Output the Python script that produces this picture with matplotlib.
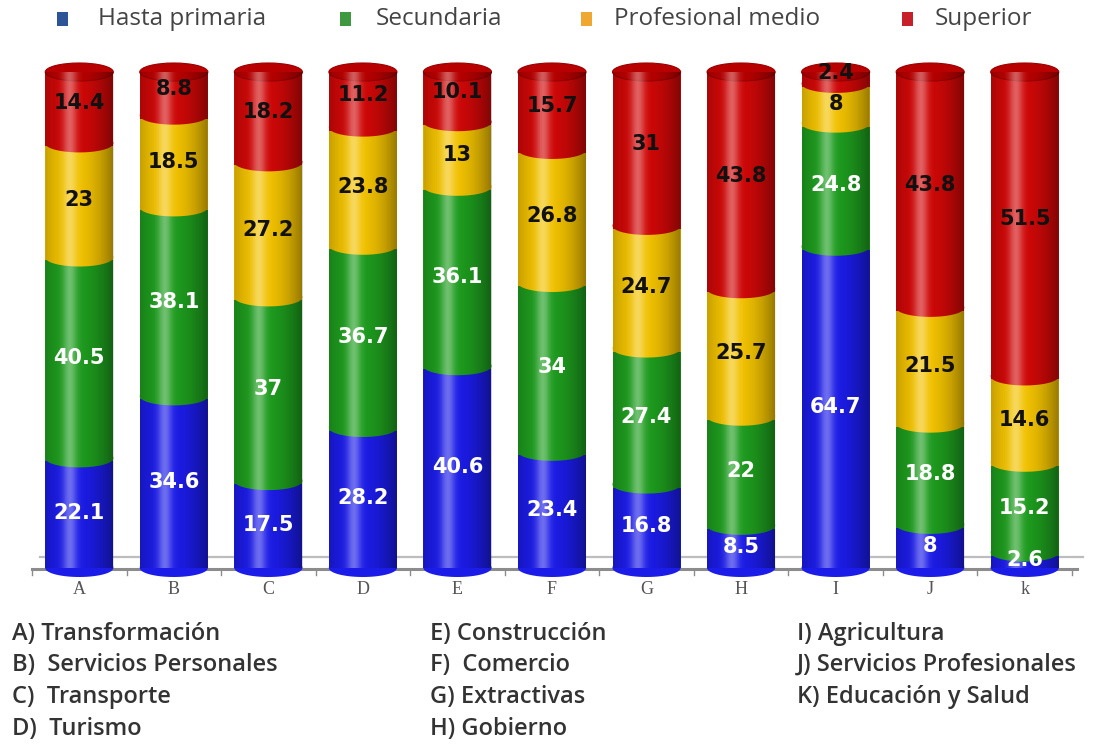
import numpy as np
import matplotlib
matplotlib.use("Agg")
import matplotlib.pyplot as plt
from matplotlib.patches import Rectangle, Ellipse, PathPatch
from matplotlib.path import Path

categories = ["A", "B", "C", "D", "E", "F", "G", "H", "I", "J", "k"]
series_names = ["Hasta primaria", "Secundaria", "Profesional medio", "Superior"]
hasta_primaria = [22.1, 34.6, 17.5, 28.2, 40.6, 23.4, 16.8, 8.5, 64.7, 8, 2.6]
secundaria = [40.5, 38.1, 37, 36.7, 36.1, 34, 27.4, 22, 24.8, 18.8, 15.2]
profesional_medio = [23, 18.5, 27.2, 23.8, 13, 26.8, 24.7, 25.7, 8, 21.5, 14.6]
superior = [14.4, 8.8, 18.2, 11.2, 10.1, 15.7, 31, 43.8, 2.4, 43.8, 51.5]
sector_notes = [
    ["A) Transformación", "B)  Servicios Personales", "C)  Transporte", "D)  Turismo"],
    ["E) Construcción", "F)  Comercio", "G) Extractivas", "H) Gobierno"],
    ["I) Agricultura", "J) Servicios Profesionales", "K) Educación y Salud"],
]

bar_colors = ["#1c1ce8", "#1e9c1e", "#f2c200", "#d00808"]
cap_color = "#b80000"
legend_colors = ["#2d5496", "#3f9a3f", "#f0a732", "#c8202a"]
label_colors = ["white", "white", "#111111", "#111111"]

W, H = 1101, 744
fig = plt.figure(figsize=(W / 100, H / 100), dpi=100)

left_px, right_px = 32, 1072
bot_px, top_px = 568, 72
ax = fig.add_axes([left_px / W, 1 - bot_px / H, (right_px - left_px) / W, (bot_px - top_px) / H])
ax.set_xlim(-0.5, len(categories) - 0.5)
ax.set_ylim(0, 100)
ax.axis("off")

px_per_unit_y = (bot_px - top_px) / 100.0
ell_h = 18 / px_per_unit_y
bw = 0.72

data = np.array([hasta_primaria, secundaria, profesional_medio, superior], dtype=float)
totals = data.sum(axis=0)
shares = data / totals * 100

# floor
ax.plot([-0.5, len(categories) - 0.45], [-0.2, -0.2], color="#8c8c8c", lw=2.2, clip_on=False, zorder=1)
ax.plot([-0.42, len(categories) - 0.38], [2.2, 2.2], color="#bdbdbd", lw=1.6, clip_on=False, zorder=1)
for i in range(len(categories) + 1):
    xb = i - 0.5
    ax.plot([xb, xb], [-0.2, -1.4], color="#8c8c8c", lw=1, clip_on=False, zorder=1)

t = np.linspace(0, 1, 200)
dark = 0.40 * (np.abs(t - 0.40) / 0.60) ** 2
light = 0.36 * np.exp(-((t - 0.36) / 0.10) ** 2)
dark_img = np.zeros((2, 200, 4)); dark_img[..., 3] = dark
light_img = np.ones((2, 200, 4)); light_img[..., 3] = light

overlap = 0.6
for i, cat in enumerate(categories):
    x = i
    y0 = 0.0
    for s in range(4):
        h = shares[s, i]
        z = 2 + s * 0.1
        ext = overlap if s > 0 else 0
        ax.add_patch(Rectangle((x - bw / 2, y0 - ext), bw, h + ext, facecolor=bar_colors[s], edgecolor="none",
                               zorder=z, clip_on=False))
        th = np.linspace(np.pi, 2 * np.pi, 60)
        verts = np.column_stack([x + bw / 2 * np.cos(th), y0 + ell_h / 2 * np.sin(th)])
        verts = np.vstack([[x - bw / 2, y0 + 0.3], verts, [x + bw / 2, y0 + 0.3], [x - bw / 2, y0 + 0.3]])
        ax.add_patch(PathPatch(Path(verts), facecolor=bar_colors[s], edgecolor="none", zorder=z, clip_on=False))
        y0 += h
    ax.add_patch(Ellipse((x, 100), bw, ell_h, facecolor=cap_color, edgecolor="#9a0000", lw=0.8, zorder=2.6, clip_on=False))

    th_top = np.linspace(np.pi, 0, 60)
    th_bot = np.linspace(0, -np.pi, 60)
    top = np.column_stack([x + bw / 2 * np.cos(th_top), 100 + ell_h / 2 * np.sin(th_top)])
    bot = np.column_stack([x + bw / 2 * np.cos(th_bot), 0 + ell_h / 2 * np.sin(th_bot)])
    verts = np.vstack([top, bot, top[:1]])
    clip = PathPatch(Path(verts), transform=ax.transData, facecolor="none", edgecolor="none")
    ax.add_patch(clip)
    for img in (dark_img, light_img):
        im = ax.imshow(img, extent=(x - bw / 2, x + bw / 2, -ell_h, 100 + ell_h), aspect="auto", zorder=2.7,
                       interpolation="bilinear", origin="lower")
        im.set_clip_path(clip)

    y0 = 0.0
    for s in range(4):
        h = shares[s, i]
        yc = y0 + h / 2
        if s == 3:
            yc = y0 + h / 2 + 1
        ax.text(x, yc, f"{data[s, i]:g}", ha="center", va="center", fontsize=15, fontweight="bold",
                color=label_colors[s], zorder=5, family="DejaVu Sans")
        y0 += h

    fig.text((left_px + (i + 0.5) * (right_px - left_px) / len(categories)) / W, 1 - 590 / H, cat,
             ha="center", va="center", fontsize=13, color="#555555", family="Liberation Serif")

ax.set_xlim(-0.5, len(categories) - 0.5)
ax.set_ylim(0, 100)

leg_sq = [62, 345, 586, 907]
leg_tx = [98, 376, 614, 935]
for k in range(4):
    fig.patches.append(Rectangle(((leg_sq[k] - 5) / W, 1 - 26 / H), 11 / W, 14 / H, transform=fig.transFigure,
                                 facecolor=legend_colors[k], edgecolor="none", figure=fig))
    fig.text(leg_tx[k] / W, 1 - 19 / H, series_names[k], ha="left", va="center", fontsize=17.5,
             color="#444444", family="Open Sans")

col_x = [12, 430, 797]
row_y = [634, 665, 697, 729]
for c, col in enumerate(sector_notes):
    for r, s in enumerate(col):
        fig.text(col_x[c] / W, 1 - row_y[r] / H, s, ha="left", va="center", fontsize=17,
                 color="#333333", family="Open Sans", fontweight="semibold")

fig.savefig("out.png", dpi=100)
